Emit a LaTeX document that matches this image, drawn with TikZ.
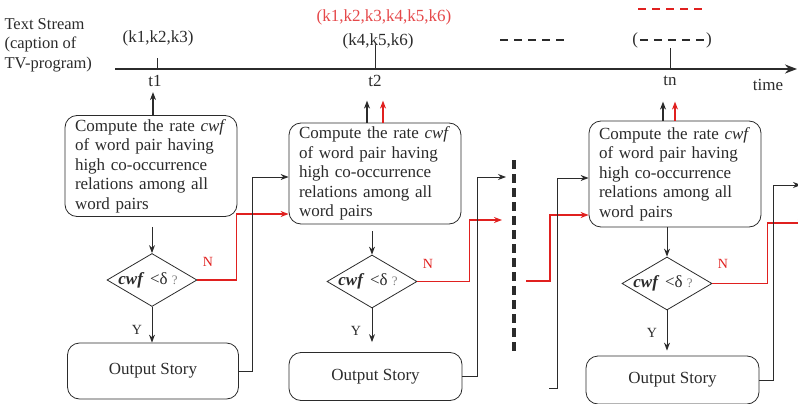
\documentclass[tikz,border=0pt]{standalone}
\usepackage{fontspec}
\setmainfont{Liberation Serif}
\usetikzlibrary{arrows.meta,positioning,calc,shapes.geometric}
\definecolor{inkgray}{HTML}{2B2B2B}
\definecolor{flowred}{HTML}{E0201F}
\definecolor{keyred}{HTML}{E5484A}

\begin{document}
\begin{tikzpicture}[x=1pt, y=-1pt, >={Stealth[length=8pt,width=6pt]},
  every node/.style={font=\fontsize{17}{19.5}\selectfont, text=inkgray},
  procbox/.style={draw=inkgray, line width=0.8pt, rounded corners=12pt, align=left,
    text width=152pt, minimum height=101pt, inner xsep=10pt, inner ysep=1pt},
  outbox/.style={draw=inkgray, line width=0.8pt, rounded corners=12pt},
  decision/.style={draw=inkgray, line width=0.8pt, diamond, minimum width=90pt,
    minimum height=53pt, inner sep=0pt},
  yn/.style={font=\fontsize{14}{16}\selectfont},
  flow/.style={draw=inkgray, line width=1pt},
  nflow/.style={draw=flowred, line width=1.8pt},
  upflow/.style={draw=inkgray, line width=1.4pt},
  tick/.style={draw=inkgray, line width=0.8pt},
  keydash/.style={draw=inkgray, line width=2.2pt, dash pattern=on 8pt off 6pt}]

\useasboundingbox (0,0) rectangle (798,404);
\clip (0,0) rectangle (798,404);

% time axis
\node[align=left, anchor=west, font=\fontsize{16.5}{19.5}\selectfont] (stream) at (1,45)
  {Text Stream\\(caption of\\TV-program)};
\coordinate (ts) at (115,69);
\coordinate (te) at (797,69);
\draw[draw=inkgray, line width=2pt, -{Stealth[length=12pt,width=9pt]}] (ts) -- (te);
\node (time) at (768,85) {time};

\coordinate (p1) at (157,69);
\coordinate (p2) at (375,69);
\coordinate (pn) at (670,69);
\draw[tick] (p1) -- ++(0,-11);
\draw[tick] (p2) -- ++(0,-24);
\draw[tick] (pn) -- ++(0,-21);
\node[below=3pt of p1, xshift=-2pt] (t1) {t1};
\node[below=3pt of p2] (t2) {t2};
\node[below=3pt of pn] (tn) {tn};

\node (k1) at (158,38) {(k1,k2,k3)};
\node (k2) at (378,41) {(k4,k5,k6)};
\node[text=keyred] (k12) at (384,17) {(k1,k2,k3,k4,k5,k6)};
\node (kn) at (672,40) {(\hspace{68pt})};
\draw[keydash] ([xshift=11pt]kn.west) -- ([xshift=-11pt]kn.east);
\draw[keydash] (500,40) -- (568,40);
\draw[keydash, draw=flowred] (638,9) -- (702,9);

% first window
\node[procbox] (b1) at (151,166)
  {Compute the rate \textit{cwf}\\of word pair having\\high co-occurrence\\relations among all\\word pairs};
\node[decision, label={[xshift=-4pt]center:{\textbf{\textit{cwf}}\,\,<δ {\fontsize{13}{15}\selectfont\color{gray}?}}}] (d1) at (152,280) {};
\node[outbox, minimum width=171pt, minimum height=56pt] (o1) at (153,371) {Output Story};
\node[yn] (y1) at (137,330) {Y};
\node[yn, text=flowred] (n1) at (208,262) {N};

\draw[upflow,->] ($(b1.north)+(2,0)$) -- ++(0,-23);
\draw[flow,->,shorten <=10pt] (d1.north |- b1.south) -- (d1.north);
\draw[flow,->] (d1.south) -- (d1.south |- o1.north);

% second window
\node[procbox] (b2) at (375,173.5)
  {Compute the rate \textit{cwf}\\of word pair having\\high co-occurrence\\relations among all\\word pairs};
\node[decision, label={[xshift=-4pt]center:{\textbf{\textit{cwf}}\,\,<δ {\fontsize{13}{15}\selectfont\color{gray}?}}}] (d2) at (372,281.5) {};
\node[outbox, minimum width=173pt, minimum height=48pt] (o2) at (375.5,376.5) {Output Story};
\node[yn] (y2) at (356,331) {Y};
\node[yn, text=flowred] (n2) at (428,264) {N};

\draw[upflow,->] ($(b2.north)+(-8,0)$) -- ++(0,-22);
\draw[upflow,->,draw=flowred] ($(b2.north)+(8,0)$) -- ++(0,-22);
\draw[flow,->,shorten <=7pt] (d2.north |- b2.south) -- (d2.north);
\draw[flow,->,shorten >=10pt] (d2.south) -- (d2.south |- o2.north);

\draw[nflow,->] (d1.east) -- ++(39,0) |- ($(b2.west)+(0,40.5)$);
\draw[flow,->] (o1.east) -- ++(14,0) |- ($(b2.west)+(0,3.5)$);

\draw[draw=inkgray, line width=3.2pt, dash pattern=on 9pt off 5pt] (514,160) -- (514,352);

% last window
\node[procbox, minimum height=106pt] (b3) at (675,174)
  {Compute the rate \textit{cwf}\\of word pair having\\high co-occurrence\\relations among all\\word pairs};
\node[decision, label={[xshift=-4pt]center:{\textbf{\textit{cwf}}\,\,<δ {\fontsize{13}{15}\selectfont\color{gray}?}}}] (d3) at (667,283.5) {};
\node[outbox, minimum width=173pt, minimum height=48pt] (o3) at (672.5,380) {Output Story};
\node[yn] (y3) at (652,333) {Y};
\node[yn, text=flowred] (n3) at (723,264) {N};

\draw[upflow,->] ($(b3.north)+(-12,0)$) -- ++(0,-19);
\draw[upflow,->,draw=flowred] (b3.north) -- ++(0,-19);
\draw[flow,->] (d3.north |- b3.south) -- (d3.north);
\draw[flow,->,shorten >=5pt] (d3.south) -- (d3.south |- o3.north);

\coordinate (n2end) at (502,220);
\coordinate (y2end) at (506,177);
\coordinate (n3start) at (526,281);
\coordinate (y3start) at (549,388);
\coordinate (n3end) at (806,223);
\coordinate (y3end) at (801,185);

\draw[nflow,->] (d2.east) -- ++(52,0) |- (n2end);
\draw[flow,->] (o2.east) -- ++(15,0) |- (y2end);
\draw[nflow,->] (n3start) -- ++(24,0) |- ($(b3.west)+(0,41)$);
\draw[flow,->] (y3start) -- ++(8,0) |- ($(b3.west)+(0,4)$);
\draw[nflow,->] (d3.east) -- ++(55,0) |- (n3end);
\draw[flow,->] (o3.east) -- ++(14,0) |- (y3end);
\end{tikzpicture}
\end{document}
